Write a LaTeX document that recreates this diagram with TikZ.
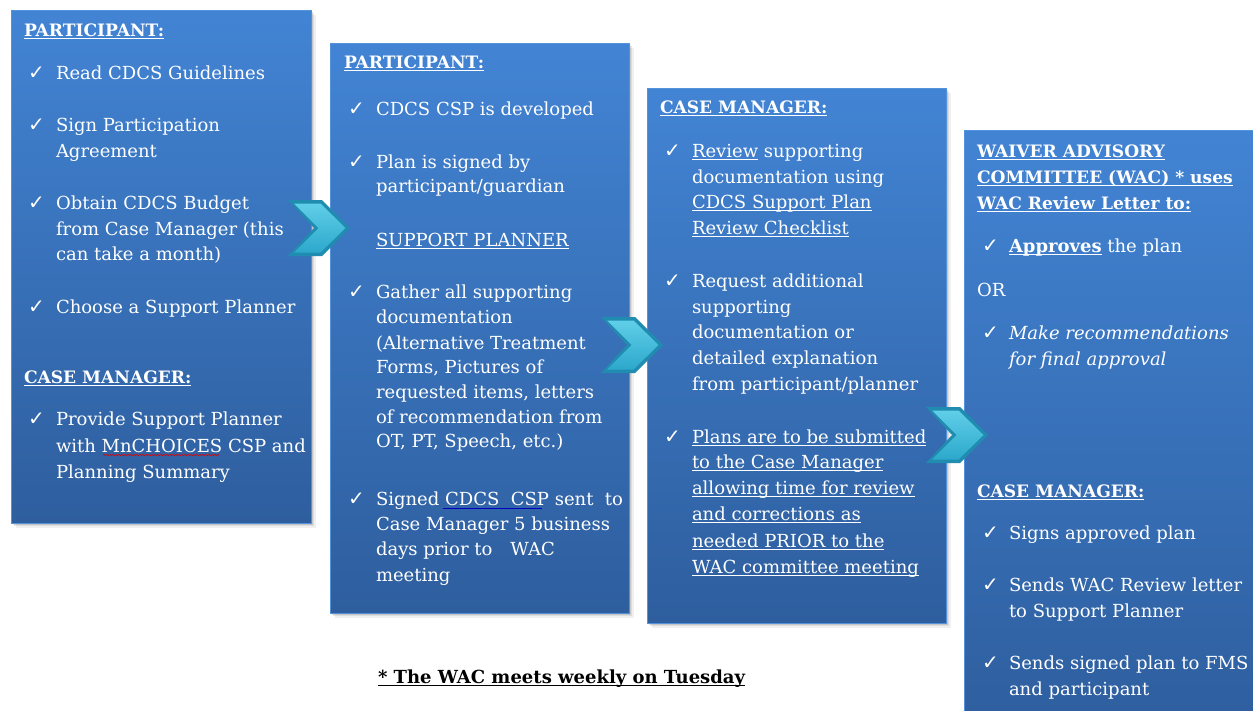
\documentclass[tikz,border=0pt]{standalone}
\usepackage{fontspec}
\setmainfont{DejaVu Serif}
\newfontfamily\checkfont{DejaVu Sans}
\usetikzlibrary{decorations.pathmorphing,calc}

\definecolor{paneltop}{RGB}{66,132,212}
\definecolor{panelbot}{RGB}{46,94,158}
\definecolor{paneledge}{RGB}{84,146,220}
\definecolor{chevdark}{RGB}{32,140,176}
\definecolor{chevtop}{RGB}{96,206,232}
\definecolor{chevbot}{RGB}{44,168,204}

% underline drawn just under the baseline
\newcommand\undl[1]{\setbox0=\hbox{#1}\rlap{\rule[-3pt]{\wd0}{1.1pt}}\box0\relax}
% soft shadow behind a panel: x1 y1 x2 y2
\newcommand\pshadow[4]{%
  \foreach \d/\o in {1.5/0.10,3/0.08,4.5/0.06}{%
    \fill[black,opacity=\o] (#1+\d,#2+\d) rectangle (#3+\d,#4+\d);}}

\begin{document}
\begin{tikzpicture}[x=1pt,y=-1pt,
  txt/.style={text=white,inner sep=0pt,outer sep=0pt,anchor=base west,
    font=\fontsize{18}{22}\selectfont},
  hd/.style={txt,font=\bfseries\fontsize{17.1}{20}\selectfont},
  tick/.style={txt,font=\checkfont\fontsize{20}{22}\selectfont},
  panel/.style={inner sep=0pt,outer sep=0pt,anchor=north west,
    top color=paneltop,bottom color=panelbot,draw=paneledge,line width=0.8pt},
  chev/.pic={
    \fill[chevdark] (-62,-28) -- (-28,-28) -- (0,0) -- (-28,28) -- (-62,28) -- (-36,0) -- cycle;
    \shade[top color=chevtop,bottom color=chevbot]
      (-56,-24.5) -- (-29.5,-24.5) -- (-4.5,0) -- (-29.5,24.5) -- (-56,24.5) -- (-31.5,0) -- cycle;
  },
]
\useasboundingbox (0,0) rectangle (1253,710);
\clip (0,0) rectangle (1253,710);
\fill[white] (0,0) rectangle (1253,710);

% panels
\pshadow{11}{10}{311}{523}
\pshadow{330}{43}{629}{613}
\pshadow{647}{88}{946}{623}
\pshadow{964}{130}{1264}{730}
\node[panel,minimum width=300pt,minimum height=513pt] (p1) at (11,10) {};
\node[panel,minimum width=299pt,minimum height=570pt] (p2) at (330,43) {};
\node[panel,minimum width=299pt,minimum height=535pt] (p3) at (647,88) {};
\node[panel,minimum width=300pt,minimum height=600pt] (p4) at (964,130) {};

% chevrons between the panels
\pic (c1) at (350,228) {chev};
\pic (c2) at (663,345) {chev};
\pic (c3) at (988,435) {chev};

% ---- panel 1
\node[hd] (a0) at (24,36) {\undl{PARTICIPANT:}};
\node[tick] (a1k) at (28,79) {✓};
\node[txt] (a1) at (56,79) {Read CDCS Guidelines};
\node[tick] (a2k) at (28,131) {✓};
\node[txt] (a2) at (56,131) {Sign Participation};
\node[txt] (a2b) at (56,157) {Agreement};
\node[tick] (a3k) at (28,209) {✓};
\node[txt] (a3) at (56,209) {Obtain CDCS Budget};
\node[txt] (a3b) at (56,235) {from Case Manager (this};
\node[txt] (a3c) at (56,260) {can take a month)};
\node[tick] (a4k) at (28,313) {✓};
\node[txt] (a4) at (56,313) {Choose a Support Planner};
\node[hd] (a5) at (24,383) {\undl{CASE MANAGER:}};
\node[tick] (a6k) at (28,425) {✓};
\node[txt] (a6) at (56,425) {Provide Support Planner};
\node[txt] (a6b) at (56,452) {with MnCHOICES CSP and};
\node[txt] (a6c) at (56,478) {Planning Summary};
\draw[red!85!black,line width=0.6pt,decorate,
  decoration={snake,amplitude=0.7pt,segment length=3pt}] (103,455) -- (219,455);

% ---- panel 2
\node[hd] (b0) at (344,68) {\undl{PARTICIPANT:}};
\node[tick] (b1k) at (348,115) {✓};
\node[txt] (b1) at (376,115) {CDCS CSP is developed};
\node[tick] (b2k) at (348,168) {✓};
\node[txt] (b2) at (376,168) {Plan is signed by};
\node[txt] (b2b) at (376,192) {participant/guardian};
\node[txt] (b3) at (376,246) {\undl{SUPPORT PLANNER}};
\node[tick] (b4k) at (348,298) {✓};
\node[txt] (b4) at (376,298) {Gather all supporting};
\node[txt] (b4b) at (376,323) {documentation};
\node[txt] (b4c) at (376,349) {(Alternative Treatment};
\node[txt] (b4d) at (376,373) {Forms, Pictures of};
\node[txt] (b4e) at (376,398) {requested items, letters};
\node[txt] (b4f) at (376,423) {of recommendation from};
\node[txt] (b4g) at (376,447) {OT, PT, Speech, etc.)};
\node[tick] (b5k) at (348,505) {✓};
\node[txt] (b5) at (376,505) {Signed CDCS\ \ CSP sent\ \ to};
\node[txt] (b5b) at (376,530) {Case Manager 5 business};
\node[txt] (b5c) at (376,555) {days prior to\quad WAC};
\node[txt] (b5d) at (376,581) {meeting};
\draw[blue!75!black,line width=0.9pt] (443,508) -- (542,508);

% ---- panel 3
\node[hd] (c0) at (660,113) {\undl{CASE MANAGER:}};
\node[tick] (d1k) at (664,157) {✓};
\node[txt] (d1) at (692,157) {\undl{Review} supporting};
\node[txt] (d1b) at (692,183) {documentation using};
\node[txt] (d1c) at (692,208) {\undl{CDCS Support Plan}};
\node[txt] (d1d) at (692,234) {\undl{Review Checklist}};
\node[tick] (d2k) at (664,287) {✓};
\node[txt] (d2) at (692,287) {Request additional};
\node[txt] (d2b) at (692,313) {supporting};
\node[txt] (d2c) at (692,338) {documentation or};
\node[txt] (d2d) at (692,364) {detailed explanation};
\node[txt] (d2e) at (692,390) {from participant/planner};
\node[tick] (d3k) at (664,443) {✓};
\node[txt] (d3) at (692,443) {\undl{Plans are to be submitted}};
\node[txt] (d3b) at (692,468) {\undl{to the Case Manager}};
\node[txt] (d3c) at (692,494) {\undl{allowing time for review}};
\node[txt] (d3d) at (692,520) {\undl{and corrections as}};
\node[txt] (d3e) at (692,547) {\undl{needed PRIOR to the}};
\node[txt] (d3f) at (692,573) {\undl{WAC committee meeting}};

% ---- panel 4
\node[hd] (e0) at (977,157) {\undl{WAIVER ADVISORY}};
\node[hd] (e0b) at (977,183) {\undl{COMMITTEE (WAC) * uses}};
\node[hd] (e0c) at (977,209) {\undl{WAC Review Letter to:}};
\node[tick] (e1k) at (982,252) {✓};
\node[txt] (e1) at (1009,252) {\textbf{\undl{Approves}} the plan};
\node[txt] (e2) at (977,296) {OR};
\node[tick] (e3k) at (982,339) {✓};
\node[txt] (e3) at (1009,339) {\itshape Make recommendations};
\node[txt] (e3b) at (1009,365) {\itshape for final approval};
\node[hd] (e4) at (977,497) {\undl{CASE MANAGER:}};
\node[tick] (e5k) at (982,539) {✓};
\node[txt] (e5) at (1009,539) {Signs approved plan};
\node[tick] (e6k) at (982,591) {✓};
\node[txt] (e6) at (1009,591) {Sends WAC Review letter};
\node[txt] (e6b) at (1009,617) {to Support Planner};
\node[tick] (e7k) at (982,669) {✓};
\node[txt] (e7) at (1009,669) {Sends signed plan to FMS};
\node[txt] (e7b) at (1009,695) {and participant};

% footnote
\node[txt,text=black,font=\bfseries\fontsize{18}{20}\selectfont] (note) at (378,683)
  {\undl{*\ The WAC meets weekly on Tuesday}};
\end{tikzpicture}
\end{document}
